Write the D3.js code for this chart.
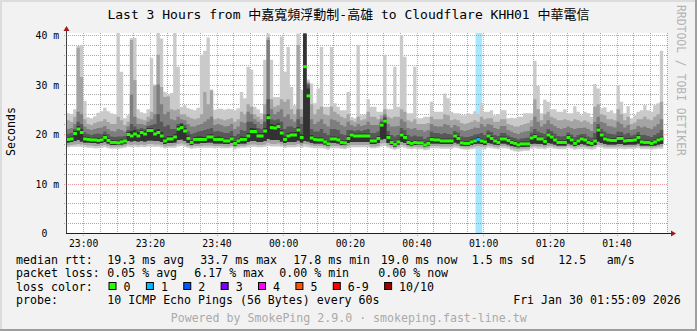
<!DOCTYPE html>
<html lang="en">
  <head>
    <title>SmokePing</title>
    <meta charset="utf-8" />
    <script src="https://cdn.jsdelivr.net/npm/d3@7"></script>
    <style>
      body { margin: 0; background: #f2f2f2; }
      svg text { font-family: "DejaVu Sans Mono", "Noto Sans CJK TC", monospace; white-space: pre; }
    </style>
  </head>
  <body>
    <svg id="chart" width="697" height="331"></svg>
    <script>
      // one value per 60s step, starting at 22:55 (ms)
      const rttMedian = [
        18.9, 19.0, 20.1, 21.0, 20.3, 19.0, 18.9, 18.8, 18.8, 18.7,
        18.8, 19.3, 18.7, 18.3, 18.3, 18.2, 18.4, 18.6, 19.9, 19.6,
        20.0, 19.6, 20.3, 20.0, 20.7, 20.7, 20.0, 20.3, 19.6, 18.6,
        19.0, 19.0, 19.4, 21.0, 21.3, 20.6, 19.1, 18.3, 18.9, 18.9,
        18.9, 18.9, 19.4, 19.4, 18.9, 18.9, 18.9, 18.6, 18.6, 19.0,
        18.1, 18.6, 18.9, 18.9, 19.6, 20.5, 20.5, 19.6, 19.6, 20.6,
        23.3, 21.3, 21.2, 21.5, 20.2, 18.9, 19.6, 19.8, 19.8, 20.8,
        19.3, 33.6, 27.7, 19.2, 18.9, 18.8, 18.8, 18.4, 18.0, 19.0,
        19.0, 18.8, 18.3, 18.2, 19.1, 19.8, 19.6, 19.6, 19.6, 19.6,
        19.6, 18.6, 18.6, 19.1, 21.8, 22.6, 19.3, 18.3, 17.9, 18.4,
        19.8, 19.3, 18.3, 18.1, 18.3, 18.2, 18.2, 17.8, 18.1, 18.9,
        18.8, 18.8, 18.6, 18.6, 18.6, 18.6, 19.6, 19.1, 18.2, 18.1,
        18.1, 18.4, 18.6, 18.9, 18.6, 18.4, 19.6, 19.1, 18.6, 18.3,
        19.0, 19.0, 18.7, 18.3, 18.1, 17.8, 18.0, 18.0, 18.0, 19.2,
        19.5, 19.0, 19.0, 18.5, 19.8, 19.4, 18.8, 18.3, 18.3, 18.3,
        19.3, 18.8, 18.1, 18.6, 19.0, 18.8, 18.3, 18.1, 18.6, 20.8,
        19.8, 19.0, 18.8, 18.7, 18.7, 19.1, 19.1, 18.6, 18.7, 18.7,
        18.8, 19.3, 18.4, 18.3, 18.3, 18.1, 18.4, 18.8, 19.0
      ];
      const rttMax = [
        24.2, 24.0, 25.0, 37.8, 38.0, 26.7, 23.4, 23.2, 23.6, 24.3,
        24.6, 25.3, 24.6, 24.2, 24.0, 41.0, 32.6, 23.2, 23.8, 39.4,
        39.4, 25.0, 24.4, 24.2, 25.0, 35.3, 30.0, 41.0, 39.3, 28.5,
        28.0, 28.3, 41.0, 33.6, 25.5, 25.8, 25.2, 25.0, 24.8, 25.3,
        36.0, 36.8, 39.5, 29.0, 24.9, 25.1, 25.1, 24.9, 25.1, 25.0,
        24.8, 25.2, 28.5, 27.2, 33.6, 33.0, 25.5, 25.0, 24.2, 35.0,
        40.3, 35.0, 27.5, 27.5, 39.7, 32.6, 37.6, 29.5, 25.8, 40.3,
        28.9, 40.5, 31.0, 30.2, 26.2, 29.2, 37.6, 25.5, 25.5, 37.6,
        26.2, 25.5, 24.8, 24.8, 28.5, 23.5, 23.2, 38.0, 23.8, 24.0,
        27.0, 25.5, 25.5, 24.5, 24.5, 36.0, 25.0, 25.0, 33.6, 25.5,
        40.0, 35.6, 24.2, 24.2, 33.6, 23.2, 23.2, 23.5, 23.5, 26.5,
        24.5, 24.5, 24.5, 28.2, 27.2, 24.5, 24.2, 24.2, 23.8, 23.8,
        24.2, 24.0, 24.6, 24.0, 26.2, 24.5, 24.5, 24.8, 23.8, 24.0,
        24.8, 24.8, 23.2, 23.3, 23.2, 23.5, 23.5, 24.2, 24.2, 24.2,
        34.8, 29.7, 24.2, 26.9, 26.5, 25.0, 25.0, 24.5, 24.5, 25.0,
        24.2, 24.2, 25.6, 24.5, 23.8, 24.5, 24.2, 23.5, 30.1, 29.2,
        25.2, 25.4, 24.5, 24.8, 24.2, 29.9, 26.5, 24.2, 25.6, 23.2,
        23.8, 24.5, 24.8, 25.8, 24.8, 24.5, 25.8, 26.2, 36.8
      ];
      const rttP9 = [
        22.8, 22.5, 23.5, 37.4, 31.5, 23.0, 22.0, 21.8, 22.2, 22.5,
        22.6, 23.0, 22.4, 22.0, 22.0, 23.5, 22.8, 21.8, 22.5, 39.0,
        30.9, 23.2, 23.0, 22.8, 23.5, 24.5, 29.8, 36.0, 29.5, 27.5,
        27.6, 25.0, 24.8, 25.0, 24.0, 24.0, 23.5, 23.2, 23.0, 23.2,
        24.0, 28.5, 26.0, 28.8, 23.0, 23.2, 23.0, 22.8, 23.0, 23.2,
        22.5, 23.0, 24.5, 24.0, 26.0, 25.5, 24.0, 23.5, 23.0, 26.0,
        39.5, 27.0, 25.5, 25.8, 27.0, 26.5, 27.0, 25.0, 24.0, 38.0,
        25.0, 40.4, 30.5, 26.0, 24.0, 25.0, 25.5, 24.0, 23.8, 25.5,
        24.5, 24.0, 23.5, 23.2, 24.0, 22.8, 22.5, 23.5, 22.8, 23.0,
        24.5, 23.5, 23.5, 23.0, 23.8, 25.0, 23.5, 23.2, 23.5, 23.5,
        25.0, 24.5, 22.8, 22.5, 23.0, 22.0, 22.0, 22.0, 22.2, 23.5,
        23.0, 23.0, 23.0, 24.0, 23.8, 22.8, 23.0, 22.8, 22.2, 22.0,
        22.2, 22.5, 22.8, 22.5, 23.5, 23.0, 23.2, 23.2, 22.5, 22.5,
        23.0, 23.0, 22.0, 21.8, 21.5, 21.5, 21.8, 22.0, 22.2, 22.8,
        27.0, 25.0, 22.8, 24.0, 24.5, 23.5, 23.2, 22.8, 22.8, 23.0,
        22.8, 22.6, 23.0, 22.8, 22.5, 22.8, 22.5, 22.0, 25.5, 26.0,
        24.0, 23.8, 23.0, 23.0, 22.8, 25.0, 24.0, 22.8, 23.5, 22.0,
        22.3, 23.0, 23.0, 23.5, 23.0, 22.8, 23.5, 24.0, 26.5
      ];
      const rttP8 = [
        21.0, 21.2, 22.0, 24.5, 24.0, 21.5, 21.0, 20.8, 21.0, 21.2,
        21.3, 21.6, 21.0, 20.6, 20.5, 21.0, 20.8, 20.5, 21.5, 28.0,
        23.5, 22.0, 22.0, 21.8, 22.5, 23.0, 24.0, 30.0, 26.0, 24.0,
        24.5, 23.0, 22.8, 23.5, 23.0, 22.8, 22.0, 21.5, 21.5, 21.8,
        22.0, 22.5, 23.0, 23.5, 21.8, 22.0, 21.8, 21.5, 21.6, 22.0,
        21.0, 21.5, 22.5, 22.2, 24.5, 24.0, 23.0, 22.5, 22.0, 24.0,
        39.0, 25.0, 24.0, 24.5, 25.0, 23.5, 24.0, 23.0, 22.5, 25.0,
        23.5, 40.3, 30.2, 23.0, 22.0, 22.5, 23.0, 22.0, 21.5, 23.0,
        22.8, 22.5, 21.8, 21.5, 22.5, 21.8, 21.5, 22.0, 21.6, 21.8,
        22.5, 21.8, 21.8, 21.8, 23.0, 24.0, 22.0, 21.5, 21.5, 21.6,
        23.0, 22.5, 21.2, 21.0, 21.2, 20.8, 20.8, 20.5, 20.8, 22.0,
        21.6, 21.5, 21.5, 22.0, 21.8, 21.3, 21.8, 21.5, 20.8, 20.6,
        20.8, 21.0, 21.3, 21.2, 22.0, 21.5, 22.0, 21.8, 21.2, 21.0,
        21.6, 21.6, 20.8, 20.5, 20.2, 20.0, 20.3, 20.5, 20.6, 21.5,
        23.5, 22.5, 21.5, 22.0, 22.8, 22.0, 21.6, 21.2, 21.0, 21.2,
        21.5, 21.2, 21.0, 21.2, 21.2, 21.3, 21.0, 20.6, 22.5, 23.5,
        22.5, 22.2, 21.6, 21.5, 21.3, 22.5, 22.0, 21.3, 21.8, 20.8,
        21.0, 21.6, 21.3, 21.5, 21.2, 21.0, 21.5, 22.0, 23.0
      ];
      const rttP7 = [
        20.0, 20.2, 21.0, 22.5, 22.0, 20.3, 20.0, 19.8, 20.0, 20.1,
        20.0, 20.5, 20.0, 19.5, 19.4, 19.5, 19.5, 19.6, 20.8, 22.0,
        21.5, 21.0, 21.2, 21.0, 21.6, 21.8, 22.0, 24.0, 22.5, 21.5,
        21.8, 21.0, 21.0, 22.0, 22.2, 21.8, 20.5, 20.0, 20.2, 20.5,
        20.6, 20.8, 21.0, 21.2, 20.5, 20.6, 20.4, 20.2, 20.2, 20.6,
        19.6, 20.0, 20.8, 20.6, 22.5, 22.5, 22.0, 21.2, 21.0, 22.5,
        27.0, 23.0, 22.8, 23.0, 22.5, 21.0, 21.5, 21.5, 21.2, 23.0,
        22.0, 40.3, 30.0, 21.0, 20.5, 20.5, 21.0, 20.2, 19.8, 21.0,
        21.0, 20.8, 20.0, 19.8, 20.8, 20.8, 20.6, 20.8, 20.6, 20.8,
        21.0, 20.2, 20.2, 20.5, 22.5, 23.5, 20.6, 19.8, 19.5, 19.8,
        21.2, 20.8, 19.8, 19.5, 19.7, 19.5, 19.5, 19.0, 19.4, 20.5,
        20.2, 20.2, 20.0, 20.2, 20.0, 19.9, 20.6, 20.3, 19.5, 19.4,
        19.4, 19.6, 19.9, 20.0, 20.2, 19.8, 20.7, 20.4, 19.8, 19.6,
        20.2, 20.2, 19.7, 19.4, 19.2, 18.9, 19.1, 19.2, 19.3, 20.3,
        21.0, 20.5, 20.2, 20.0, 21.0, 20.6, 20.1, 19.6, 19.5, 19.6,
        20.3, 19.9, 19.4, 19.8, 20.0, 20.0, 19.5, 19.3, 20.2, 22.0,
        21.0, 20.5, 20.1, 20.0, 19.9, 20.5, 20.4, 19.9, 20.2, 19.7,
        19.9, 20.4, 19.8, 19.8, 19.6, 19.4, 19.8, 20.2, 20.8
      ];
      const rttP6 = [
        19.3, 19.5, 20.6, 21.6, 21.0, 19.5, 19.4, 19.2, 19.3, 19.2,
        19.3, 19.8, 19.2, 18.8, 18.8, 18.7, 18.9, 19.0, 20.4, 20.6,
        20.8, 20.4, 20.8, 20.6, 21.2, 21.2, 20.8, 21.0, 20.4, 19.3,
        19.6, 19.6, 20.0, 21.6, 22.0, 21.2, 19.7, 18.8, 19.4, 19.5,
        19.5, 19.4, 19.9, 20.0, 19.4, 19.5, 19.4, 19.1, 19.1, 19.5,
        18.6, 19.1, 19.5, 19.4, 20.2, 21.2, 21.1, 20.2, 20.2, 21.2,
        24.0, 22.0, 21.8, 22.1, 20.8, 19.5, 20.2, 20.4, 20.4, 21.4,
        19.9, 40.2, 29.2, 19.8, 19.4, 19.3, 19.3, 18.9, 18.5, 19.5,
        19.5, 19.3, 18.8, 18.7, 19.6, 20.3, 20.1, 20.1, 20.1, 20.1,
        20.1, 19.1, 19.1, 19.6, 22.3, 23.1, 19.8, 18.8, 18.4, 18.9,
        20.3, 19.8, 18.8, 18.6, 18.8, 18.7, 18.7, 18.3, 18.6, 19.4,
        19.3, 19.3, 19.1, 19.1, 19.1, 19.1, 20.1, 19.6, 18.7, 18.6,
        18.6, 18.9, 19.1, 19.4, 19.1, 18.9, 20.1, 19.6, 19.1, 18.8,
        19.5, 19.5, 19.2, 18.8, 18.6, 18.3, 18.5, 18.5, 18.5, 19.7,
        20.0, 19.5, 19.5, 19.0, 20.3, 19.9, 19.3, 18.8, 18.8, 18.8,
        19.8, 19.3, 18.6, 19.1, 19.5, 19.3, 18.8, 18.6, 19.1, 21.3,
        20.3, 19.5, 19.3, 19.2, 19.2, 19.6, 19.6, 19.1, 19.2, 19.2,
        19.3, 19.8, 18.9, 18.8, 18.8, 18.6, 18.9, 19.3, 19.5
      ];
      const rttP4 = [
        18.3, 18.4, 18.6, 18.8, 18.5, 18.3, 18.3, 18.2, 18.2, 18.1,
        18.2, 18.4, 18.1, 17.8, 17.8, 17.8, 17.9, 18.1, 18.6, 18.5,
        18.6, 18.5, 18.6, 18.5, 18.7, 18.7, 18.6, 18.6, 18.4, 18.0,
        18.2, 18.2, 18.3, 18.8, 18.9, 18.6, 18.2, 17.8, 18.1, 18.1,
        18.2, 18.2, 18.3, 18.3, 18.1, 18.1, 18.1, 18.0, 18.0, 18.2,
        17.7, 18.0, 18.1, 18.1, 18.4, 18.6, 18.6, 18.4, 18.4, 18.6,
        19.0, 18.8, 18.8, 18.8, 18.5, 18.2, 18.4, 18.4, 18.4, 18.7,
        18.3, 18.6, 18.5, 18.2, 18.1, 18.1, 18.1, 17.9, 17.6, 18.2,
        18.2, 18.1, 17.8, 17.8, 18.2, 18.4, 18.4, 18.4, 18.4, 18.4,
        18.4, 18.0, 18.0, 18.2, 18.9, 19.0, 18.2, 17.8, 17.5, 17.9,
        18.4, 18.2, 17.8, 17.7, 17.8, 17.8, 17.8, 17.5, 17.7, 18.1,
        18.1, 18.1, 18.0, 18.0, 18.0, 18.0, 18.3, 18.1, 17.7, 17.6,
        17.6, 17.8, 18.0, 18.1, 18.0, 17.8, 18.2, 18.1, 17.9, 17.8,
        18.1, 18.1, 17.9, 17.6, 17.5, 17.3, 17.4, 17.4, 17.5, 18.0,
        18.1, 18.0, 18.0, 17.8, 18.2, 18.1, 17.9, 17.7, 17.7, 17.7,
        18.1, 17.9, 17.6, 17.8, 18.0, 17.9, 17.7, 17.6, 17.8, 18.5,
        18.2, 18.0, 17.9, 17.9, 17.9, 18.0, 18.0, 17.8, 17.9, 17.9,
        17.9, 18.1, 17.7, 17.7, 17.7, 17.6, 17.7, 17.9, 18.0
      ];
      const rttP2 = [
        17.7, 17.8, 17.9, 18.0, 17.9, 17.8, 17.7, 17.7, 17.6, 17.6,
        17.7, 17.8, 17.6, 17.4, 17.4, 17.4, 17.5, 17.6, 17.9, 17.8,
        17.9, 17.8, 17.9, 17.8, 18.0, 18.0, 17.9, 17.9, 17.8, 17.5,
        17.6, 17.6, 17.7, 18.0, 18.1, 17.9, 17.6, 17.4, 17.6, 17.6,
        17.6, 17.7, 17.7, 17.7, 17.6, 17.6, 17.6, 17.5, 17.5, 17.6,
        17.3, 17.5, 17.6, 17.6, 17.8, 17.9, 17.9, 17.8, 17.8, 17.9,
        18.2, 18.0, 18.0, 18.1, 17.9, 17.6, 17.8, 17.8, 17.8, 18.0,
        17.7, 18.0, 17.9, 17.7, 17.6, 17.6, 17.6, 17.5, 17.2, 17.6,
        17.6, 17.6, 17.4, 17.3, 17.6, 17.8, 17.8, 17.8, 17.8, 17.8,
        17.8, 17.5, 17.5, 17.6, 18.1, 18.2, 17.7, 17.4, 17.1, 17.4,
        17.8, 17.7, 17.4, 17.3, 17.4, 17.3, 17.3, 17.1, 17.2, 17.6,
        17.6, 17.6, 17.5, 17.5, 17.5, 17.5, 17.7, 17.6, 17.3, 17.2,
        17.2, 17.3, 17.5, 17.6, 17.5, 17.4, 17.7, 17.6, 17.4, 17.3,
        17.6, 17.6, 17.4, 17.1, 17.0, 16.9, 17.0, 17.0, 17.0, 17.5,
        17.6, 17.5, 17.5, 17.3, 17.6, 17.6, 17.4, 17.3, 17.3, 17.3,
        17.6, 17.4, 17.2, 17.4, 17.5, 17.4, 17.3, 17.2, 17.4, 17.8,
        17.7, 17.5, 17.4, 17.4, 17.4, 17.5, 17.5, 17.4, 17.4, 17.4,
        17.4, 17.6, 17.3, 17.3, 17.3, 17.2, 17.3, 17.4, 17.5
      ];
      const rttMin = [
        17.3, 17.4, 17.4, 17.5, 17.4, 17.3, 17.2, 17.2, 17.1, 17.1,
        17.2, 17.3, 17.1, 17.0, 17.0, 17.0, 17.1, 17.2, 17.4, 17.3,
        17.4, 17.3, 17.4, 17.3, 17.5, 17.4, 17.4, 17.4, 17.3, 17.1,
        17.2, 17.2, 17.2, 17.5, 17.6, 17.4, 17.2, 17.0, 17.1, 17.2,
        17.2, 17.2, 17.2, 17.2, 17.1, 17.2, 17.1, 17.1, 17.1, 17.2,
        16.9, 17.1, 17.2, 17.2, 17.3, 17.4, 17.4, 17.3, 17.3, 17.4,
        17.6, 17.5, 17.5, 17.5, 17.4, 17.2, 17.3, 17.3, 17.3, 17.4,
        17.2, 17.4, 17.3, 17.2, 17.1, 17.1, 17.1, 17.0, 16.8, 17.1,
        17.1, 17.1, 17.0, 16.9, 17.1, 17.3, 17.3, 17.3, 17.3, 17.3,
        17.3, 17.1, 17.1, 17.2, 17.5, 17.6, 17.2, 17.0, 16.8, 17.0,
        17.3, 17.2, 17.0, 16.9, 17.0, 16.9, 16.9, 16.7, 16.8, 17.1,
        17.1, 17.1, 17.0, 17.0, 17.0, 17.0, 17.2, 17.1, 16.9, 16.8,
        16.8, 16.9, 17.0, 17.1, 17.0, 16.9, 17.2, 17.1, 17.0, 16.9,
        17.1, 17.1, 17.0, 16.7, 16.5, 16.4, 16.5, 16.6, 16.6, 17.0,
        17.1, 17.0, 17.0, 16.9, 17.1, 17.1, 17.0, 16.9, 16.9, 16.9,
        17.1, 17.0, 16.8, 16.9, 17.0, 17.0, 16.9, 16.8, 16.9, 17.3,
        17.2, 17.0, 17.0, 17.0, 17.0, 17.0, 17.0, 16.9, 17.0, 17.0,
        17.0, 17.1, 16.9, 16.9, 16.9, 16.8, 16.9, 17.0, 17.0
      ];
      // lost pings (of 10) per step
      const lossTimes = ["00:58"];
      const lossCounts = [1];

      const timeTicks = ["23:00", "23:20", "23:40", "00:00", "00:20", "00:40", "01:00", "01:20", "01:40"];
      const yTicks = [0, 10, 20, 30, 40];
      const yTickLabels = ["0  ", "10 m", "20 m", "30 m", "40 m"];

      const lossLabels = ["0", "1", "2", "3", "4", "5", "6-9", "10/10"];
      const lossColors = ["#26ff00", "#00b8ff", "#0059ff", "#7e00ff", "#ff00ff", "#ff5500", "#ff0000", "#a10000"];

      const statsRtt = ["19.3 ms avg", "33.7 ms max", "17.8 ms min", "19.0 ms now", "1.5 ms sd", "12.5", "am/s"];
      const statsLoss = ["0.05 % avg", "6.17 % max", "0.00 % min", "0.00 % now"];

      // time helpers
      const day = t => { const [h, m] = t.split(":").map(Number); return new Date(2026, 0, h >= 12 ? 29 : 30, h, m, 0); };
      const firstStep = new Date(2026, 0, 29, 22, 55, 0);
      const stepTime = i => new Date(firstStep.getTime() + i * 60000);
      const viewStart = new Date(2026, 0, 29, 22, 55, 9);
      const viewEnd = new Date(2026, 0, 30, 1, 55, 9);

      const W = 697, H = 331;
      const margin = { left: 67, right: 667, top: 33, bottom: 233 };

      const x = d3.scaleTime().domain([viewStart, viewEnd]).range([margin.left, margin.right]);
      const y = d3.scaleLinear().domain([0, 40]).range([233, 35]);

      const svg = d3.select("#chart");

      // background + frame
      svg.append("rect").attr("width", W).attr("height", H).attr("fill", "#f2f2f2");
      svg.append("rect").attr("x", 0).attr("y", 0).attr("width", W).attr("height", 2).attr("fill", "#dcdcdc");
      svg.append("rect").attr("x", 0).attr("y", 0).attr("width", 2).attr("height", H).attr("fill", "#dcdcdc");
      svg.append("rect").attr("x", W - 2).attr("y", 0).attr("width", 2).attr("height", H).attr("fill", "#9e9e9e");
      svg.append("rect").attr("x", 0).attr("y", H - 2).attr("width", W).attr("height", 2).attr("fill", "#9e9e9e");

      svg.append("rect")
        .attr("x", margin.left).attr("y", margin.top)
        .attr("width", margin.right - margin.left).attr("height", margin.bottom - margin.top)
        .attr("fill", "#fff");

      svg.append("clipPath").attr("id", "plotclip")
        .append("rect")
        .attr("x", margin.left).attr("y", margin.top)
        .attr("width", margin.right - margin.left).attr("height", margin.bottom - margin.top);

      // grid: dotted, 1px dots every 2px
      const px = v => Math.round(v) + 0.5;
      const minorH = d3.range(0, 41, 2).filter(v => v % 10 !== 0);
      const minorV = d3.timeMinute.every(5).range(viewStart, viewEnd).filter(t => t.getMinutes() % 20 !== 0);
      const majorV = timeTicks.map(day);

      const gridMinor = svg.append("g").attr("class", "grid-minor")
        .attr("stroke", "#a8a8a8").attr("stroke-width", 1).attr("stroke-dasharray", "1 1");
      minorH.forEach(v => gridMinor.append("line")
        .attr("x1", 64).attr("x2", margin.right).attr("y1", px(y(v))).attr("y2", px(y(v))));
      minorV.forEach(t => gridMinor.append("line")
        .attr("x1", px(x(t))).attr("x2", px(x(t))).attr("y1", margin.top).attr("y2", margin.bottom));

      const gridMajor = svg.append("g").attr("class", "grid-major")
        .attr("stroke", "#e89898").attr("stroke-width", 1).attr("stroke-dasharray", "1 1");
      yTicks.slice(1).forEach(v => gridMajor.append("line")
        .attr("x1", 64).attr("x2", margin.right).attr("y1", px(y(v))).attr("y2", px(y(v))));
      majorV.forEach(t => gridMajor.append("line")
        .attr("x1", px(x(t))).attr("x2", px(x(t))).attr("y1", margin.top).attr("y2", margin.bottom + 3));

      const plot = svg.append("g").attr("clip-path", "url(#plotclip)");

      // loss bars
      plot.selectAll(".lossbar").data(lossTimes).join("rect")
        .attr("x", d => x(day(d)) - 1)
        .attr("width", d => x(new Date(day(d).getTime() + 120000)) - x(day(d)))
        .attr("y", margin.top).attr("height", margin.bottom - margin.top)
        .attr("fill", (d, i) => lossColors[lossCounts[i]])
        .attr("fill-opacity", 0.35);

      // smoke
      const steps = d3.range(rttMedian.length + 1).map(i => Math.min(i, rttMedian.length - 1));
      const layers = [
        { lo: rttMin, hi: rttMax, fill: "#cacaca" },
        { lo: rttP2, hi: rttP9, fill: "#a4a4a4" },
        { lo: rttP4, hi: rttP8, fill: "#7e7e7e" },
        { lo: rttP4, hi: rttP7, fill: "#585858" },
        { lo: rttP4, hi: rttP6, fill: "#323232" }
      ];
      layers.forEach(L => {
        const area = d3.area()
          .curve(d3.curveStepAfter)
          .x((d, k) => x(stepTime(k)))
          .y0(d => y(L.lo[d]))
          .y1(d => y(L.hi[d]));
        plot.append("path").attr("d", area(steps)).attr("fill", L.fill);
      });

      // median: one flat segment per step, coloured by loss
      const lossAt = new Map(lossTimes.map((t, i) => [Math.round((day(t) - firstStep) / 60000), lossCounts[i]]));
      plot.selectAll(".med").data(rttMedian).join("line")
        .attr("x1", (d, i) => x(stepTime(i)))
        .attr("x2", (d, i) => x(stepTime(i + 1)) + 0.4)
        .attr("y1", d => y(d)).attr("y2", d => y(d))
        .attr("stroke", (d, i) => lossColors[lossAt.get(i) || 0])
        .attr("stroke-width", 3);

      // axes
      const font = g => g.selectAll("text")
        .attr("fill", "#000")
        .attr("font-family", "DejaVu Sans Mono")
        .attr("font-size", "9.75px");

      svg.append("g")
        .attr("transform", `translate(0,${margin.bottom})`)
        .call(d3.axisBottom(x).tickValues(majorV).tickFormat(d3.timeFormat("%H:%M")).tickSize(0).tickPadding(6.6))
        .call(g => g.select(".domain").remove())
        .call(font);

      svg.append("g")
        .attr("transform", `translate(${margin.left},0)`)
        .call(d3.axisLeft(y).tickValues(yTicks).tickFormat((d, i) => yTickLabels[i]).tickSize(0).tickPadding(8))
        .call(g => g.select(".domain").remove())
        .call(font)
        .call(g => g.selectAll("text").attr("dy", "0.36em"));

      svg.append("line").attr("x1", 66.5).attr("x2", 66.5).attr("y1", margin.bottom + 0.5).attr("y2", 30)
        .attr("stroke", "#404040");
      svg.append("line").attr("x1", 66).attr("x2", 672).attr("y1", 233.5).attr("y2", 233.5)
        .attr("stroke", "#202020");
      svg.append("path").attr("d", "M63.5,31L66.5,26L69.5,31Z").attr("fill", "#a11a1a");
      svg.append("path").attr("d", "M671,230.5L676,233.5L671,236.5Z").attr("fill", "#a11a1a");

      // title and side labels
      svg.append("text").attr("x", 348.5).attr("y", 19).attr("text-anchor", "middle")
        .attr("font-size", "13px").text("Last 3 Hours from 中嘉寬頻浮動制-高雄 to Cloudflare KHH01 中華電信");
      svg.append("text").attr("transform", "translate(14.5,131.5) rotate(-90)").attr("text-anchor", "middle")
        .attr("font-size", "11.6px").text("Seconds");
      svg.append("text").attr("transform", "translate(677,5) rotate(90)")
        .attr("font-size", "11.4px").attr("fill", "#b4b4b4").text("RRDTOOL / TOBI OETIKER");

      // legend
      const lg = svg.append("g").attr("font-size", "11.6px").attr("fill", "#000");
      const rowY = [263.5, 277, 290.5, 304];
      lg.append("text").attr("x", 16).attr("y", rowY[0]).text("median rtt:");
      [107.3, 200.3, 293.3, 380.7, 471.7, 558.3, 606.7].forEach((lx, i) =>
        lg.append("text").attr("x", lx).attr("y", rowY[0]).text(statsRtt[i]));
      lg.append("text").attr("x", 16).attr("y", rowY[1]).text("packet loss:");
      [107.3, 194.3, 279.3, 378.3].forEach((lx, i) =>
        lg.append("text").attr("x", lx).attr("y", rowY[1]).text(statsLoss[i]));
      lg.append("text").attr("x", 16).attr("y", rowY[2]).text("loss color:");
      const charW = 6.98;
      let lx = 108.5;
      lossLabels.forEach((lab, i) => {
        lg.append("rect").attr("x", lx + 0.5).attr("y", 282.5).attr("width", 7).attr("height", 7)
          .attr("fill", lossColors[i]).attr("stroke", "#000");
        lg.append("text").attr("x", lx + 15).attr("y", rowY[2]).text(lab);
        lx = lx + 15 + lab.length * charW + 15.4;
      });
      lg.append("text").attr("x", 16).attr("y", rowY[3]).text("probe:");
      lg.append("text").attr("x", 107.3).attr("y", rowY[3]).text("10 ICMP Echo Pings (56 Bytes) every 60s");
      lg.append("text").attr("x", 680.7).attr("y", rowY[3]).attr("text-anchor", "end").text("Fri Jan 30 01:55:09 2026");

      svg.append("text").attr("x", 348.7).attr("y", 322).attr("text-anchor", "middle")
        .attr("font-size", "11.6px").attr("fill", "#aaaaaa")
        .text("Powered by SmokePing 2.9.0 · smokeping.fast-line.tw");
    </script>
  </body>
</html>
